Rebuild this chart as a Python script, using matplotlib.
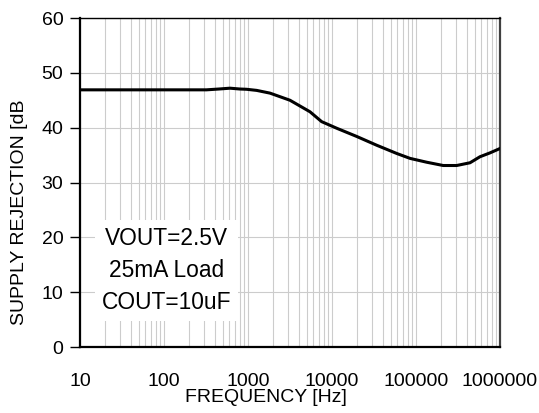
import numpy as np
import matplotlib.pyplot as plt
from matplotlib.ticker import FixedLocator, NullFormatter

plt.rcParams['font.family'] = ['Liberation Sans', 'DejaVu Sans']

# curve
freq = [10, 30, 100, 200, 320, 450, 611, 800, 964, 1268, 1828, 3162, 5470, 7530,
        11370, 19680, 34040, 58900, 84900, 134000, 211000, 305000, 440000,
        578000, 760000, 1000000]
psrr = [46.9, 46.9, 46.9, 46.9, 46.9, 47.05, 47.2, 47.05, 47.0, 46.8, 46.3, 45.0,
        42.9, 41.1, 39.9, 38.4, 36.8, 35.3, 34.4, 33.7, 33.1, 33.1, 33.6,
        34.7, 35.4, 36.2]

xticks = [10, 100, 1000, 10000, 100000, 1000000]
xlabels = ['10', '100', '1000', '10000', '100000', '1000000']
yticks = [0, 10, 20, 30, 40, 50, 60]

fig = plt.figure(figsize=(5.39, 4.13), dpi=100)
ax = fig.add_axes([0.1484, 0.1598, 0.9276 - 0.1484, 0.9564 - 0.1598])

ax.plot(freq, psrr, color='black', lw=2.2, zorder=4)

ax.set_xscale('log')
ax.set_xlim(10, 1e6)
ax.set_ylim(0, 60)
ax.xaxis.set_major_locator(FixedLocator(xticks))
ax.set_xticklabels(xlabels)
ax.xaxis.set_minor_locator(FixedLocator([m * d for d in xticks[:-1] for m in range(2, 10)]))
ax.xaxis.set_minor_formatter(NullFormatter())
ax.set_yticks(yticks)

ax.set_axisbelow(True)
ax.grid(which='both', axis='x', color='#cccccc', lw=0.8)
ax.grid(which='major', axis='y', color='#cccccc', lw=0.8)

ax.tick_params(axis='x', which='both', length=0, labelsize=14, pad=19)
ax.tick_params(axis='y', length=7, width=1, labelsize=14, pad=5)

for s in ['left', 'bottom']:
    ax.spines[s].set_linewidth(1.6)
    ax.spines[s].set_color('black')
ax.spines['top'].set_linewidth(1.0)
ax.spines['right'].set_linewidth(1.6)
ax.spines['right'].set_color('#404040')

ax.set_xlabel('FREQUENCY [Hz]', fontsize=14)
ax.xaxis.set_label_coords(0.443, -0.155)
ax.xaxis.label.set_va('center')
ax.set_ylabel('SUPPLY REJECTION [dB', fontsize=14)
ax.yaxis.set_label_coords(-0.143, 0.41)
ax.yaxis.label.set_va('center')
ax.yaxis.label.set_ha('center')

ax.text(108, 13.9, 'VOUT=2.5V\n25mA Load\nCOUT=10uF', fontsize=16.4,
        ha='center', va='center', linespacing=1.5, zorder=3,
        bbox=dict(boxstyle='square,pad=0.3', fc='white', ec='none'))

fig.savefig('out.png', dpi=100)
